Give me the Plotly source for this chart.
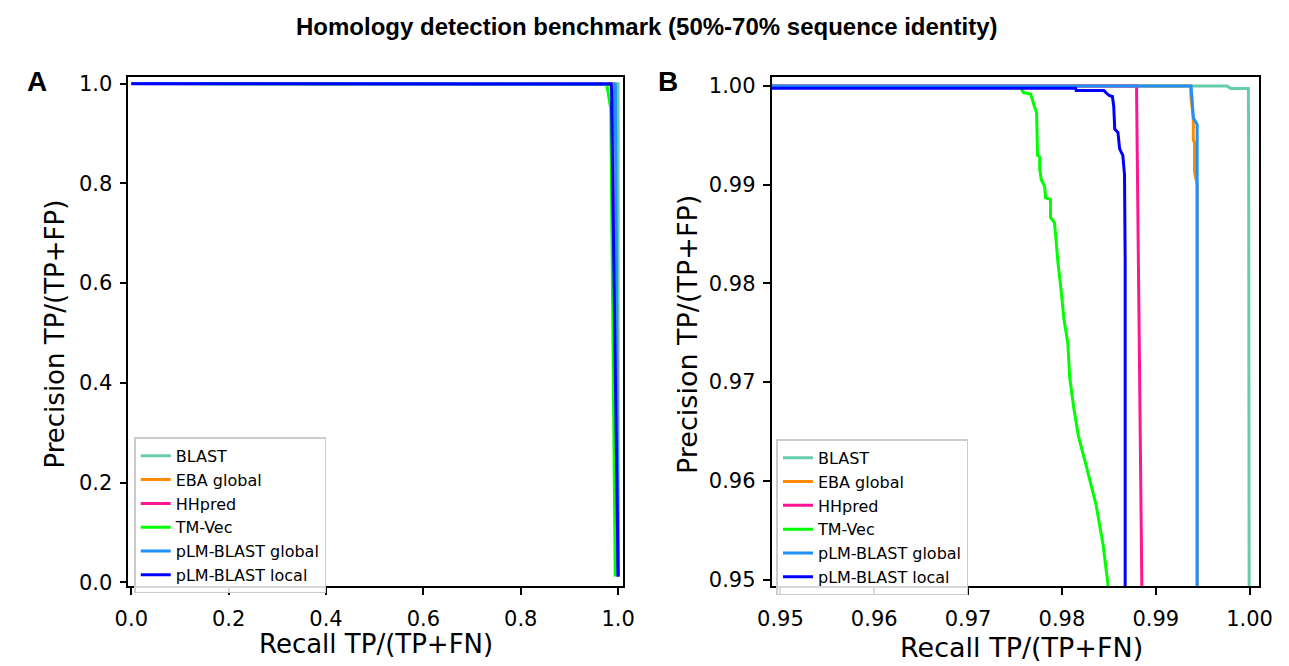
import plotly.graph_objects as go

# ---------------- data ----------------
methods = ["BLAST", "EBA global", "HHpred", "TM-Vec", "pLM-BLAST global", "pLM-BLAST local"]
colors = ["#66CDAA", "#FF8C00", "#FF1493", "#00FF00", "#1E90FF", "#0000FF"]

blast_recall = [0.0, 0.9976, 0.9980, 0.99987, 0.99990, 0.99995, 1.0]
blast_precision = [1.0, 1.0, 0.99975, 0.99975, 0.9917, 0.949, 0.012]

eba_recall = [0.0, 0.99372, 0.99375, 0.99400, 0.99400, 0.99413, 0.99413, 0.99441, 0.99441, 1.0]
eba_precision = [1.0, 1.0, 0.9988, 0.9968, 0.9945, 0.9943, 0.9913, 0.9900, 0.949, 0.012]

hhpred_recall = [0.0, 0.98795, 0.999]
hhpred_precision = [1.0, 1.0, 0.012]

tmvec_recall = [0.0, 0.9755, 0.97573, 0.97590, 0.97667, 0.97677, 0.97701, 0.97730, 0.97740,
                0.97763, 0.97763, 0.97780, 0.97816, 0.97826, 0.97878, 0.97878, 0.97920,
                0.97938, 0.97955, 0.97990, 0.98021, 0.98063, 0.98083, 0.98125, 0.98177,
                0.98260, 0.98365, 0.98438, 0.98490, 0.994]
tmvec_precision = [1.0, 0.99985, 0.99962, 0.99934, 0.99920, 0.99878, 0.99811, 0.99729, 0.99298,
                   0.99281, 0.99165, 0.99050, 0.98983, 0.98867, 0.98851, 0.98668, 0.98618,
                   0.98436, 0.98238, 0.97940, 0.97642, 0.97393, 0.97045, 0.96746, 0.96448,
                   0.96150, 0.95752, 0.95355, 0.94957, 0.012]

plmg_recall = [0.0, 0.99375, 0.99385, 0.99400, 0.99441, 0.99441, 1.0]
plmg_precision = [1.0, 1.0, 0.99895, 0.99679, 0.99612, 0.949, 0.012]

plml_recall = [0.0, 0.98146, 0.98152, 0.98448, 0.98476, 0.98503, 0.98538, 0.98552, 0.98563,
               0.98597, 0.98615, 0.98649, 0.98667, 0.98674, 0.98674, 1.0]
plml_precision = [0.99978, 0.99978, 0.99954, 0.99954, 0.99927, 0.99904, 0.99894, 0.99795, 0.99563,
                  0.99530, 0.99364, 0.99298, 0.99100, 0.98238, 0.949, 0.012]

recalls = [blast_recall, eba_recall, hhpred_recall, tmvec_recall, plmg_recall, plml_recall]
precisions = [blast_precision, eba_precision, hhpred_precision, tmvec_precision, plmg_precision, plml_precision]

a_ticks = [0.0, 0.2, 0.4, 0.6, 0.8, 1.0]
b_ticks = [0.95, 0.96, 0.97, 0.98, 0.99, 1.00]

W, H = 1289, 666
TICKFONT = dict(family="DejaVu Sans", size=21, color="black")

fig = go.Figure()
for panel, (xa, ya, leg) in enumerate([("x", "y", "legend"), ("x2", "y2", "legend2")]):
    for name, col, rx, py in zip(methods, colors, recalls, precisions):
        fig.add_trace(go.Scatter(
            x=rx, y=py, mode="lines", name=name,
            line=dict(color=col, width=3.0),
            xaxis=xa, yaxis=ya, legend=leg, showlegend=True,
            hoverinfo="skip"))

def px_x(p):
    return p / W

def px_y(p):
    return 1 - p / H

axis_common = dict(showline=True, linecolor="black", linewidth=1.6, mirror=True,
                   ticks="outside", ticklen=7, tickwidth=1.6, tickcolor="black",
                   showgrid=False, zeroline=False, tickfont=TICKFONT)

legend_common = dict(xanchor="left", yanchor="top",
                     bgcolor="rgba(255,255,255,0.85)", bordercolor="#cccccc", borderwidth=1.5,
                     font=dict(family="DejaVu Sans", size=16, color="black"),
                     tracegroupgap=0)

yd = [px_y(593), px_y(73)]
fig.update_layout(
    width=W, height=H,
    margin=dict(l=0, r=0, t=0, b=0),
    paper_bgcolor="white", plot_bgcolor="white",
    xaxis=dict(domain=[px_x(116), px_x(622)], range=[-0.006, 1.010], anchor="y",
               tickvals=a_ticks, tickformat=".1f", ticklabelstandoff=6, **axis_common),
    yaxis=dict(domain=yd, range=[-0.008, 1.014], anchor="x",
               tickvals=a_ticks, tickformat=".1f", ticklabelstandoff=3, **axis_common),
    xaxis2=dict(domain=[px_x(774), px_x(1273)], range=[0.94906, 1.00104], anchor="y2",
                tickvals=b_ticks, tickformat=".2f", ticklabelstandoff=6, **axis_common),
    yaxis2=dict(domain=yd, range=[0.9493, 1.00096], anchor="x2",
                tickvals=b_ticks, tickformat=".2f", ticklabelstandoff=3, **axis_common),
    legend=dict(x=px_x(122), y=px_y(441), **legend_common),
    legend2=dict(x=px_x(779), y=px_y(443), **legend_common),
    showlegend=True,
)

ann = [
    dict(text="<b>Homology detection benchmark (50%-70% sequence identity)</b>",
         x=px_x(647), y=px_y(22), font=dict(family="Liberation Sans", size=24, color="black")),
    dict(text="<b>A</b>", x=px_x(22), y=px_y(78),
         font=dict(family="Liberation Sans", size=28, color="black")),
    dict(text="<b>B</b>", x=px_x(668), y=px_y(78),
         font=dict(family="Liberation Sans", size=28, color="black")),
    dict(text="Recall TP/(TP+FN)", x=px_x(369), y=px_y(652),
         font=dict(family="DejaVu Sans", size=26, color="black")),
    dict(text="Recall TP/(TP+FN)", x=px_x(1030), y=px_y(655),
         font=dict(family="DejaVu Sans", size=27, color="black")),
    dict(text="Precision TP/(TP+FP)", x=px_x(41), y=px_y(336), textangle=-90,
         font=dict(family="DejaVu Sans", size=26, color="black")),
    dict(text="Precision TP/(TP+FP)", x=px_x(688), y=px_y(336), textangle=-90,
         font=dict(family="DejaVu Sans", size=27, color="black")),
]
for a in ann:
    a.update(xref="paper", yref="paper", xanchor="center", yanchor="middle", showarrow=False)
fig.update_layout(annotations=ann)

fig.write_html("out.html")
